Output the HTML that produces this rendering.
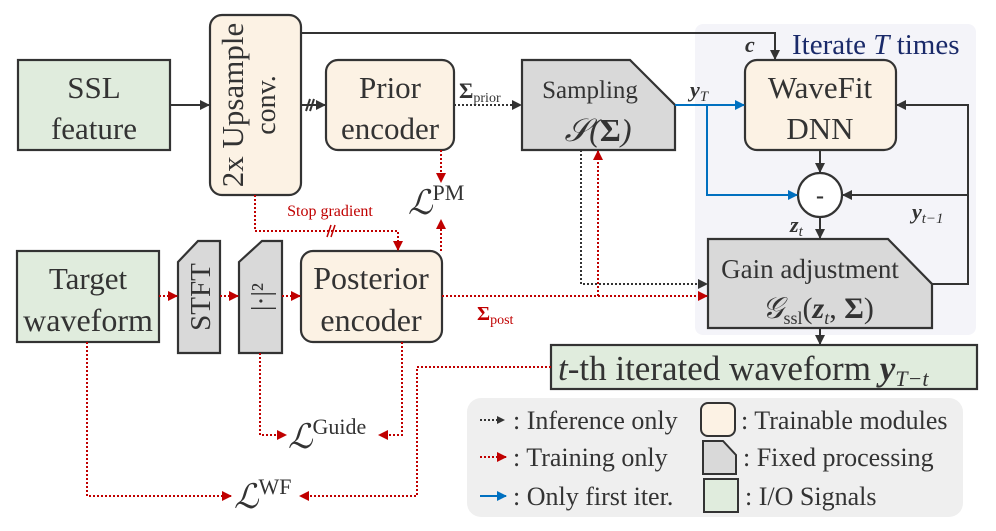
<!DOCTYPE html>
<html><head><meta charset="utf-8"><style>
html,body{margin:0;padding:0;background:#fff;}
svg{display:block;font-family:"Liberation Serif",serif;}
</style></head><body>
<svg width="996" height="531" viewBox="0 0 996 531" xmlns="http://www.w3.org/2000/svg">
<defs>
<marker id="ak" markerWidth="8" markerHeight="8" refX="7" refY="4" orient="auto" markerUnits="userSpaceOnUse"><path d="M0,0 L8,4 L0,8Z" fill="#333"/></marker>
<marker id="ar" markerWidth="10" markerHeight="10" refX="9" refY="5" orient="auto" markerUnits="userSpaceOnUse"><path d="M0,0 L10,5 L0,10Z" fill="#c00000"/></marker>
<marker id="ab" markerWidth="10" markerHeight="10" refX="9" refY="5" orient="auto" markerUnits="userSpaceOnUse"><path d="M0,0 L10,5 L0,10Z" fill="#0070c0"/></marker>
<marker id="ak2" markerWidth="10" markerHeight="10" refX="9" refY="5" orient="auto" markerUnits="userSpaceOnUse"><path d="M0,0 L10,5 L0,10Z" fill="#333"/></marker>
</defs>
<rect x="695" y="24" width="281" height="311" rx="8" fill="#f4f4f9"/>
<rect x="467" y="398" width="496" height="119" rx="14" fill="#efefef"/>

<g stroke="#333" stroke-width="2.2">
<rect x="18" y="60" width="152" height="90" fill="#e0ecdd"/>
<rect x="210" y="15" width="91" height="180" rx="12" fill="#fcf2e4"/>
<rect x="326" y="60" width="128" height="90" rx="12" fill="#fcf2e4"/>
<path d="M522,60 L630,60 L675,105 L675,150 L522,150Z" fill="#d9d9d9"/>
<rect x="745" y="60" width="151" height="90" rx="12" fill="#fcf2e4"/>
<circle cx="820" cy="195" r="22" fill="#fff"/>
<path d="M708,239 L888,239 L932,284 L932,328 L708,328Z" fill="#d9d9d9"/>
<rect x="551" y="345" width="426" height="44" fill="#e0ecdd"/>
<rect x="17" y="251" width="142" height="91" fill="#e0ecdd"/>
<path d="M178,262 L198,241 L220,241 L220,353 L178,353Z" fill="#d9d9d9"/>
<path d="M239,262 L262,241 L282,241 L282,353 L239,353Z" fill="#d9d9d9"/>
<rect x="301" y="251" width="141" height="91" rx="12" fill="#fcf2e4"/>
</g>

<g stroke="#333" stroke-width="2" fill="none">
<line x1="170" y1="105" x2="209" y2="105" marker-end="url(#ak2)"/>
<line x1="301" y1="105" x2="325" y2="105" marker-end="url(#ak2)"/>
<line x1="306" y1="111" x2="310" y2="99"/><line x1="310" y1="111" x2="314" y2="99"/>
<polyline points="301,33 775,33 775,59" marker-end="url(#ak2)"/>
<line x1="820" y1="150" x2="820" y2="172" marker-end="url(#ak2)"/>
<line x1="820" y1="217" x2="820" y2="238" marker-end="url(#ak2)"/>
<polyline points="932,284 968,284 968,105 897,105" marker-end="url(#ak2)"/>
<polyline points="968,195 843,195" marker-end="url(#ak2)"/>
<line x1="820" y1="328" x2="820" y2="344" marker-end="url(#ak2)"/>
</g>
<g stroke="#333" stroke-width="2" fill="none" stroke-dasharray="2,2">
<line x1="454" y1="105" x2="521" y2="105" marker-end="url(#ak2)"/>
<polyline points="581,150 581,284 707,284" marker-end="url(#ak2)"/>
</g>
<g stroke="#0070c0" stroke-width="2" fill="none">
<line x1="675" y1="105" x2="744" y2="105" marker-end="url(#ab)"/>
<polyline points="707,105 707,195 797,195" marker-end="url(#ab)"/>
</g>
<g stroke="#c00000" stroke-width="2" fill="none" stroke-dasharray="2,2">
<line x1="441" y1="150" x2="441" y2="182" marker-end="url(#ar)"/>
<line x1="441" y1="251" x2="441" y2="220" marker-end="url(#ar)"/>
<polyline points="255,195 255,231 398,231 398,250" marker-end="url(#ar)"/>
<line x1="442" y1="296" x2="707" y2="296" marker-end="url(#ar)"/>
<line x1="598" y1="296" x2="598" y2="151" marker-end="url(#ar)"/>
<line x1="159" y1="296" x2="177" y2="296" marker-end="url(#ar)"/>
<line x1="220" y1="296" x2="238" y2="296" marker-end="url(#ar)"/>
<line x1="282" y1="296" x2="300" y2="296" marker-end="url(#ar)"/>
<polyline points="260,353 260,435 286,435" marker-end="url(#ar)"/>
<polyline points="402,342 402,435 379,435" marker-end="url(#ar)"/>
<polyline points="87,342 87,496 231,496" marker-end="url(#ar)"/>
<polyline points="551,367 417,367 417,496 300,496" marker-end="url(#ar)"/>
</g>
<g stroke="#c00000" stroke-width="1.5"><line x1="327" y1="237" x2="331" y2="225"/><line x1="331" y1="237" x2="335" y2="225"/></g>

<g fill="#333" text-anchor="middle" font-size="31">
<text x="94" y="98">SSL</text><text x="94" y="139">feature</text>
<text x="390" y="98">Prior</text><text x="390" y="139">encoder</text>
<text x="820" y="98">WaveFit</text><text x="820" y="139">DNN</text>
<text x="88" y="289">Target</text><text x="88" y="331" font-size="32">waveform</text>
<text x="371" y="289" font-size="32">Posterior</text><text x="371" y="331" font-size="32">encoder</text>
<text transform="translate(251,105) rotate(-90)" x="0" y="-8" font-size="31">2x Upsample</text>
<text transform="translate(251,105) rotate(-90)" x="0" y="24" font-size="28">conv.</text>
<text transform="translate(210,297) rotate(-90)" x="0" y="0" font-size="29">STFT</text>
<text transform="translate(270,297) rotate(-90)" x="0" y="0" font-size="27">|·|²</text>
<text x="590" y="98" font-size="25">Sampling</text>
<text x="598" y="141" font-size="32" font-style="italic">𝒮(<tspan font-weight="bold" font-style="normal">Σ</tspan>)</text>
<text x="810" y="278" font-size="27">Gain adjustment</text>
<text x="818" y="318" font-size="30"><tspan font-style="italic">𝒢</tspan><tspan font-size="18" dy="6">ssl</tspan><tspan dy="-6">(</tspan><tspan font-weight="bold" font-style="italic">z</tspan><tspan font-size="18" dy="6" font-style="italic">t</tspan><tspan dy="-6">, </tspan><tspan font-weight="bold">Σ</tspan>)</text>
<text x="820" y="203" font-size="24" font-weight="bold">-</text>
</g>
<g fill="#333" font-size="34">
<text x="558" y="380" font-size="35"><tspan font-style="italic">t</tspan>-th iterated waveform <tspan font-weight="bold" font-style="italic">y</tspan><tspan font-size="22" dy="6" font-style="italic">T−t</tspan></text>
<text x="408" y="214" font-style="italic">ℒ<tspan font-style="normal" font-size="22" dy="-14">PM</tspan></text>
<text x="288" y="448" font-style="italic">ℒ<tspan font-style="normal" font-size="22" dy="-14">Guide</tspan></text>
<text x="234" y="508" font-style="italic">ℒ<tspan font-style="normal" font-size="22" dy="-14">WF</tspan></text>
</g>
<g fill="#333" font-size="22">
<text x="459" y="98" font-weight="bold">Σ<tspan font-weight="normal" font-size="14" dy="4">prior</tspan></text>
<text x="690" y="97" font-weight="bold" font-style="italic">y<tspan font-weight="normal" font-size="15" dy="4">T</tspan></text>
<text x="745" y="52" font-weight="bold" font-style="italic">c</text>
<text x="790" y="232" font-weight="bold" font-style="italic">z<tspan font-weight="normal" font-size="15" dy="4">t</tspan></text>
<text x="912" y="219" font-weight="bold" font-style="italic">y<tspan font-weight="normal" font-size="15" dy="4">t−1</tspan></text>
</g>
<text x="477" y="320" fill="#c00000" font-size="20" font-weight="bold">Σ<tspan font-weight="normal" font-size="14" dy="4">post</tspan></text>
<text x="330" y="216" fill="#c00000" font-size="16" text-anchor="middle">Stop gradient</text>
<text x="792" y="54" fill="#1a2a6a" font-size="29">Iterate <tspan font-style="italic">T</tspan> times</text>

<g stroke-width="2" fill="none">
<line x1="480" y1="420" x2="504" y2="420" stroke="#333" stroke-dasharray="2,2" marker-end="url(#ak)"/>
<line x1="480" y1="457" x2="506" y2="457" stroke="#c00000" stroke-dasharray="2,2" marker-end="url(#ar)"/>
<line x1="480" y1="496" x2="506" y2="496" stroke="#0070c0" marker-end="url(#ab)"/>
</g>
<g stroke="#333" stroke-width="2">
<rect x="701" y="403" width="34" height="33" rx="7" fill="#fcf2e4"/>
<path d="M703,441 L723,441 L736,455 L736,474 L703,474Z" fill="#d9d9d9"/>
<rect x="704" y="479" width="34" height="33" fill="#e0ecdd"/>
</g>
<g fill="#333" font-size="26">
<text x="513" y="429">: Inference only</text>
<text x="513" y="466">: Training only</text>
<text x="513" y="505">: Only first iter.</text>
<text x="741" y="429">: Trainable modules</text>
<text x="743" y="466">: Fixed processing</text>
<text x="745" y="505">: I/O Signals</text>
</g>
</svg>
</body></html>
